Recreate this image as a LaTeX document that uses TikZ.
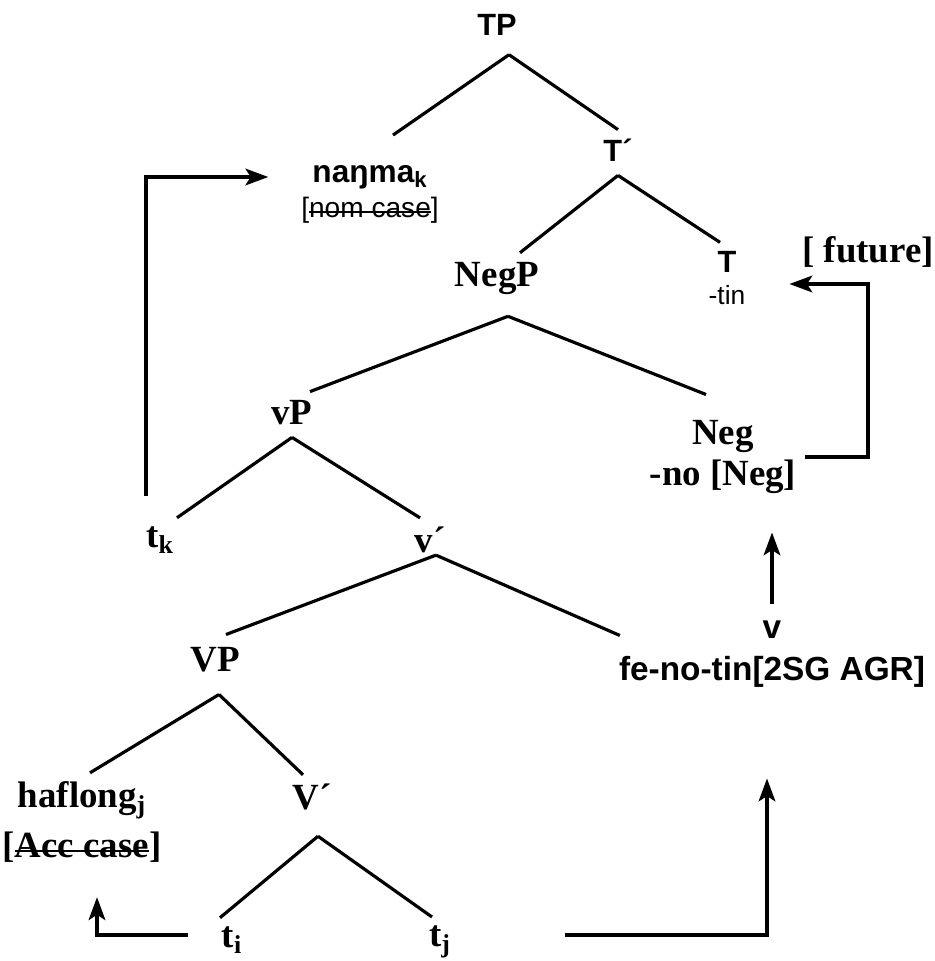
\documentclass[tikz,border=0pt]{standalone}
\usepackage{fontspec}
\setmainfont{Liberation Serif}
\setsansfont{Liberation Sans}
\usetikzlibrary{arrows.meta,calc}
\newsavebox{\strikebox}
\newcommand{\strikeout}[1]{\sbox{\strikebox}{#1}\rlap{\rule[0.3ex]{\wd\strikebox}{1.2pt}}\usebox{\strikebox}}
\tikzset{
  sanslbl/.style={
    font=\sffamily\bfseries\fontsize{17.5}{18}\selectfont,
    inner sep=5pt,
    align=center
  },
  serlbl/.style={
    font=\bfseries\fontsize{21}{23}\selectfont,
    inner sep=5pt,
    align=center
  },
  branch/.style={
    line width=1.8pt
  },
  move/.style={
    -{Stealth[length=13pt,width=9.5pt,inset=3pt]},
    line width=1.8pt
  }
}

\begin{document}
\begin{tikzpicture}[x=0.02cm,y=-0.02cm]
\useasboundingbox (0,0) rectangle (935,961);

\node[sanslbl] (TP) at (497,25) {TP};
\node[sanslbl, font=\sffamily\bfseries\fontsize{18}{20}\selectfont] (nanma) at (370,177) {naŋma\textsubscript{k}};
\node[sanslbl, font=\sffamily\fontsize{16}{18}\selectfont] (nomcase) at (370,210) {[\strikeout{nom case}]};
\node[sanslbl] (Tbar) at (618,150) {T´};
\node[serlbl] (NegP) at (497,278) {NegP};
\node[sanslbl] (T) at (727,278) {T\\{\mdseries\fontsize{15}{18}\selectfont -tin}};
\node[serlbl] (fut) at (868,252) {[ future]};
\node[serlbl] (vP) at (292,413) {vP};
\node[serlbl] (Neg) at (723,457) {Neg\\-no [Neg]};
\node[serlbl] (tk) at (160,540) {t\textsubscript{k}};
\node[serlbl] (vbar) at (430,540) {v´};
\node[serlbl] (VP) at (215,660) {VP};
\node[sanslbl, font=\sffamily\bfseries\fontsize{19}{24}\selectfont] (vnode) at (772,654) {v\\fe-no-tin[2SG AGR]};
\node[serlbl, font=\bfseries\fontsize{21}{28}\selectfont] (hafl) at (82,822) {haflong\textsubscript{j}\\{[}\strikeout{Acc case}]};
\node[serlbl] (Vbar) at (312,797) {V´};
\node[serlbl] (ti) at (232,940) {t\textsubscript{i}};
\node[serlbl] (tj) at (440,942) {t\textsubscript{j}};

% tree branches
\draw[branch] ($(TP.south)+(12,10)$) -- ($(nanma.north)+(23,-21)$);
\draw[branch] ($(TP.south)+(12,10)$) -- (Tbar.north);
\draw[branch] ($(Tbar.south)+(0,5)$) -- ($(NegP.north)+(23,0)$);
\draw[branch] ($(Tbar.south)+(0,5)$) -- ($(T.north)+(-7,0)$);
\draw[branch] ($(NegP.south)+(11,13)$) -- ($(vP.north)+(18,0)$);
\draw[branch] ($(NegP.south)+(11,13)$) -- ($(Neg.north)+(-17,-17)$);
\draw[branch] ($(vP.south)+(0,3)$) -- ($(tk.north)+(17,0)$);
\draw[branch] ($(vP.south)+(0,3)$) -- ($(vbar.north)+(-10,0)$);
\draw[branch] ($(vbar.south)+(6,-7)$) -- ($(VP.north)+(11,-4)$);
\draw[branch] ($(vbar.south)+(6,-7)$) -- ($(vnode.north west)+(10,24)$);
\draw[branch] ($(VP.south)+(4,13)$) -- ($(hafl.north)+(8,0)$);
\draw[branch] ($(VP.south)+(4,13)$) -- ($(Vbar.north)+(-9,0)$);
\draw[branch] ($(Vbar.south)+(6,17)$) -- ($(ti.north)+(-12,0)$);
\draw[branch] ($(Vbar.south)+(6,17)$) -- ($(tj.north)+(-8,0)$);

% movement arrows
\draw[move] ($(tk.north)+(-14,-22)$) |- ($(nanma.west)+(-35,0)$);
\draw[move] (Neg.east) -- (Neg.east -| fut) |- ($(T.east)+(35,6)$);
\draw[move] ($(vnode.north)+(0,-8)$) -- ($(vnode.north |- Neg.south)+(0,30)$);
\draw[move] ($(tj.east)+(105,-7)$) -| ($(vnode.south)+(-5,82)$);
\draw[move] ($(ti.west)+(-25,-5)$) -| ($(hafl.south)+(15,26)$);
\end{tikzpicture}
\end{document}
